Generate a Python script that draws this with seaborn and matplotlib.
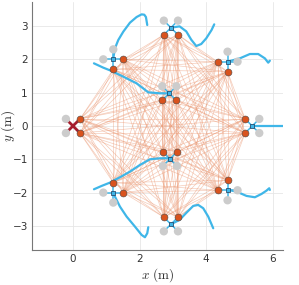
import itertools
import numpy as np
import pandas as pd
import matplotlib
matplotlib.use("Agg")
import matplotlib.pyplot as plt
import seaborn as sns
from matplotlib.collections import LineCollection

# ---- data ----
drone_x = [0.0, 1.21, 2.94, 4.64, 5.38, 4.64, 2.94, 1.21, 2.89, 2.91]
drone_y = [0.0, 2.00, 2.95, 1.93, 0.00, -1.93, -2.95, -2.00, 0.98, -0.99]
# frame: 'x' = diagonal arms, '+' = axis-aligned arms
drone_frame = ['x', '+', 'x', '+', 'x', '+', 'x', '+', 'x', 'x']
# rotor directions (degrees) that are active (orange); the rest are idle (grey)
active_dirs = [[45, -45], [0, -90], [-135, -45], [180, -90], [135, -135],
               [180, 90], [135, 45], [0, 90], [-135, -45], [135, 45]]

traj_x = [
    [1.21, 1.26, 1.36, 1.51, 1.71, 1.91, 2.06, 2.14, 2.19, 2.21, 2.23],
    [2.94, 3.2, 3.4, 3.55, 3.7, 3.85, 4.0, 4.16, 4.24],
    [4.64, 5.01, 5.31, 5.56, 5.76, 5.86, 5.91],
    [5.38, 6.35],
    [4.66, 4.91, 5.21, 5.46, 5.66, 5.81, 5.89, 5.91],
    [2.94, 3.2, 3.41, 3.61, 3.76, 3.91, 4.06, 4.21],
    [1.21, 1.41, 1.61, 1.86, 2.06, 2.16, 2.23, 2.26],
    [2.89, 2.61, 2.26, 1.91, 1.51, 1.16, 0.91, 0.63],
    [2.91, 2.61, 2.31, 2.01, 1.71, 1.41, 1.11, 0.86, 0.63],
]
traj_y = [
    [2.03, 2.33, 2.58, 2.83, 3.10, 3.27, 3.35, 3.34, 3.27, 3.15, 3.03],
    [2.95, 2.99, 2.84, 2.59, 2.40, 2.46, 2.63, 2.88, 3.05],
    [1.93, 2.03, 2.16, 2.16, 2.03, 1.90, 1.96],
    [0.0, 0.0],
    [-1.92, -1.97, -2.10, -2.14, -2.04, -1.94, -1.87, -1.92],
    [-2.95, -2.82, -2.60, -2.40, -2.37, -2.47, -2.72, -3.07],
    [-2.02, -2.42, -2.72, -3.02, -3.27, -3.34, -3.22, -3.04],
    [0.98, 0.98, 1.01, 1.28, 1.48, 1.65, 1.75, 1.88],
    [-0.97, -0.97, -1.00, -1.17, -1.37, -1.54, -1.70, -1.80, -1.90],
]

x_ticks = [0, 2, 4, 6]
y_ticks = [-3, -2, -1, 0, 1, 2, 3]

ARM = 0.3
BLUE = "#3fb6e8"
ORANGE = "#d9531e"
GREY = "#cccccc"
LEADER = "#a51d2d"
LINK = "#eb9873"

# ---- build rotor table ----
rows = []
for i, (cx, cy, fr, act) in enumerate(zip(drone_x, drone_y, drone_frame, active_dirs)):
    dirs = [45, 135, -135, -45] if fr == 'x' else [0, 90, 180, -90]
    for d in dirs:
        state = "active" if any(((d - a) % 360) == 0 for a in act) else "idle"
        rows.append(dict(drone=i, cx=cx, cy=cy,
                         rx=cx + ARM * np.cos(np.radians(d)),
                         ry=cy + ARM * np.sin(np.radians(d)),
                         state=state))
rotors = pd.DataFrame(rows)

# ---- plot ----
sns.set_style("whitegrid")
plt.rcParams["mathtext.fontset"] = "cm"
fig = plt.figure(figsize=(2.99, 2.85), dpi=100)
ax = fig.add_axes([0.107, 0.123, 0.839, 0.870])

act = rotors[rotors.state == "active"].reset_index(drop=True)
segs = []
for a, b in itertools.combinations(range(len(act)), 2):
    if act.drone[a] != act.drone[b]:
        segs.append([(act.rx[a], act.ry[a]), (act.rx[b], act.ry[b])])
ax.add_collection(LineCollection(segs, colors=LINK, linewidths=0.5, alpha=0.5, zorder=1))

for tx, ty in zip(traj_x, traj_y):
    sns.lineplot(x=tx, y=ty, sort=False, color=BLUE, lw=1.6, ax=ax, zorder=3, estimator=None)

# arms
for _, r in rotors.iterrows():
    col = LEADER if r.drone == 0 else BLUE
    lw = 2.0 if r.drone == 0 else 1.1
    ax.plot([r.cx, r.rx], [r.cy, r.ry], color=col, lw=lw, zorder=4, solid_capstyle="butt")

sns.scatterplot(data=rotors[rotors.state == "idle"], x="rx", y="ry", color=GREY,
                s=36, edgecolor="none", ax=ax, zorder=5)
sns.scatterplot(data=rotors[rotors.state == "active"], x="rx", y="ry", color=ORANGE,
                s=25, edgecolor="#4a4a4a", linewidth=0.4, ax=ax, zorder=6)
cen = pd.DataFrame(dict(x=drone_x[1:], y=drone_y[1:]))
sns.scatterplot(data=cen, x="x", y="y", marker="s", color=BLUE, s=10,
                edgecolor="#1f3b5a", linewidth=0.5, ax=ax, zorder=7)

ax.set_xlim(-1.23, 6.3)
ax.set_ylim(-3.72, 3.72)
ax.set_aspect("equal", adjustable="box")
ax.set_xticks(x_ticks)
ax.set_yticks(y_ticks)
ax.tick_params(labelsize=7.5, length=0, pad=3, colors="#333333")
ax.grid(color="#e6e6e6", lw=0.6)
for s in ["top", "right"]:
    ax.spines[s].set_visible(False)
for s in ["left", "bottom"]:
    ax.spines[s].set_color("#777777")
    ax.spines[s].set_linewidth(0.8)
ax.set_xlabel(r"$x\ (\mathrm{m})$", fontsize=9.5, color="#333333")
ax.set_ylabel(r"$y\ (\mathrm{m})$", fontsize=9.5, color="#333333")
ax.xaxis.set_label_coords(0.5, -0.065)
ax.yaxis.set_label_coords(-0.058, 0.5)
ax.set_facecolor("white")

fig.savefig("out.png", dpi=100)
